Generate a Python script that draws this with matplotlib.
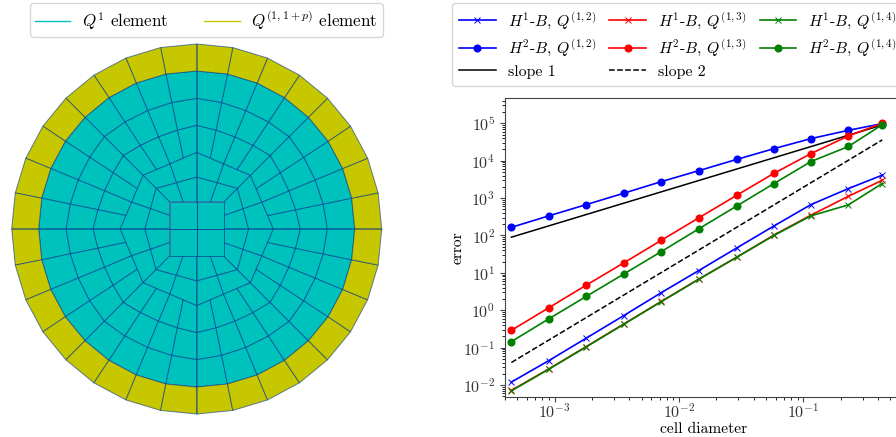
import numpy as np
import matplotlib
matplotlib.use('Agg')
import matplotlib.pyplot as plt
from matplotlib.collections import PolyCollection
from matplotlib.lines import Line2D
from matplotlib.ticker import LogLocator, NullFormatter

plt.rcParams['font.family'] = ['cmr10', 'DejaVu Sans']
plt.rcParams['mathtext.fontset'] = 'cm'
plt.rcParams['axes.formatter.use_mathtext'] = True
plt.rcParams['axes.unicode_minus'] = False

# convergence data
diam = [4.5e-4, 9.0e-4, 1.8e-3, 3.6e-3, 7.2e-3, 1.44e-2, 2.9e-2, 5.8e-2, 1.15e-1, 2.3e-1, 4.3e-1]
h1_q12 = [0.012, 0.045, 0.18, 0.72, 2.95, 11.5, 46, 180, 670, 1800, 4100]
h1_q13 = [0.0072, 0.027, 0.107, 0.43, 1.72, 6.8, 26, 103, 350, 1120, 3000]
h1_q14 = [0.0070, 0.0265, 0.105, 0.42, 1.7, 6.7, 26, 100, 335, 660, 2450]
h2_q12 = [165, 335, 670, 1350, 2750, 5400, 10800, 21000, 39000, 65000, 98000]
h2_q13 = [0.29, 1.17, 4.7, 18.5, 74, 295, 1180, 4600, 15500, 46000, 100000]
h2_q14 = [0.145, 0.59, 2.35, 9.3, 37, 150, 610, 2450, 9500, 24000, 92000]
slope_x = [4.5e-4, 4.3e-1]
slope1 = [90, 90000]
slope2 = [0.04, 36000]
x_ticks = [1e-3, 1e-2, 1e-1]
y_ticks = [1e-2, 1e-1, 1e0, 1e1, 1e2, 1e3, 1e4, 1e5]

# mesh rings: radius on the axes, radius on the diagonals, how round the ring is
ring_axis = [27.2, 52, 76.7, 103.7, 130.7, 158, 185]
ring_diag = [38.4, 57.6, 76, 104, 130.7, 158, 185]
ring_round = [0, 0, 0, 0.5, 0.76, 1, 1]
ring_spokes = [16, 16, 32, 32, 32, 32, 32]
Q1_COLOR = (0, 0.76, 0.74)
QP_COLOR = (0.78, 0.78, 0)
EDGE = (0, 0.2, 0.55, 0.6)
AXIS_EDGE = (0, 0.2, 0.55, 0.35)


def ring_point(i, k, n):
    # k-th of n points round ring i, straight chords blended with a circle
    ang = 2 * np.pi * k / n
    step = (k * 32 // n) % 8
    turn = (k * 32 // n) // 8
    s = step / 4.0 if step <= 4 else (8 - step) / 4.0
    a = np.array([ring_axis[i], 0.0])
    d = ring_diag[i] * np.array([np.cos(np.pi / 4), np.sin(np.pi / 4)])
    p = a * (1 - s) + d * s
    if step > 4:
        p = p[::-1]
    c, sn = np.cos(turn * np.pi / 2), np.sin(turn * np.pi / 2)
    p = np.array([c * p[0] - sn * p[1], sn * p[0] + c * p[1]])
    circ = ring_axis[i] * np.array([np.cos(ang), np.sin(ang)])
    return (1 - ring_round[i]) * p + ring_round[i] * circ


def ring_cells(i):
    n = ring_spokes[i]
    m = ring_spokes[i + 1]
    cells = []
    for k in range(n):
        inner = [ring_point(i, k, n), ring_point(i, k + 1, n)]
        if m == n:
            outer = [ring_point(i + 1, k + 1, m), ring_point(i + 1, k, m)]
        else:
            outer = [ring_point(i + 1, 2 * k + 2, m), ring_point(i + 1, 2 * k + 1, m), ring_point(i + 1, 2 * k, m)]
        cells.append(inner + outer)
    return cells


fig = plt.figure(figsize=(8.96, 4.37), dpi=100)

# left panel, one data unit is one pixel
ax1 = fig.add_axes([0, 0, 400 / 896, 1])
ax1.set_xlim(-196.7, 203.3)
ax1.set_ylim(-208, 229)
ax1.axis('off')

teal_cells = []
for i in range(5):
    teal_cells += ring_cells(i)
yellow_cells = ring_cells(5)

h = ring_axis[0]
for sx, sy in [(-1, -1), (1, -1), (1, 1), (-1, 1)]:
    teal_cells.append([(0, 0), (sx * h, 0), (sx * h, sy * h), (0, sy * h)])

ax1.add_collection(PolyCollection(teal_cells, facecolors=[Q1_COLOR], edgecolors=[EDGE], linewidths=0.7))
ax1.add_collection(PolyCollection(yellow_cells, facecolors=[QP_COLOR], edgecolors=[EDGE], linewidths=0.7))
R = ring_axis[-1]
ax1.plot([-R, R], [0, 0], color=AXIS_EDGE, lw=0.7)
ax1.plot([0, 0], [-R, R], color=AXIS_EDGE, lw=0.7)

handles = [Line2D([], [], color=Q1_COLOR, lw=1), Line2D([], [], color=QP_COLOR, lw=1)]
fig.legend(handles, [r'$Q^1$ element', r'$Q^{(1,1+p)}$ element'], ncol=2, fontsize=12.2,
           loc='upper left', bbox_to_anchor=(29.5 / 896, 1 - 3.3 / 437), borderaxespad=0,
           handlelength=2.1, handletextpad=0.7, columnspacing=2.1, borderpad=0.3)

# right panel
ax2 = fig.add_axes([505 / 896, 40 / 437, 398 / 896, 299.5 / 437])
ax2.loglog(diam, h1_q12, color='b', marker='x', ms=5, lw=1.2, mew=0.7, label=r'$H^1$-$B$, $Q^{(1,2)}$')
ax2.loglog(diam, h2_q12, color='b', marker='o', ms=4.8, lw=1.2, label=r'$H^2$-$B$, $Q^{(1,2)}$')
ax2.loglog(slope_x, slope1, color='k', lw=1.1, label='slope 1')
ax2.loglog(diam, h1_q13, color='r', marker='x', ms=5, lw=1.2, mew=0.7, label=r'$H^1$-$B$, $Q^{(1,3)}$')
ax2.loglog(diam, h2_q13, color='r', marker='o', ms=4.8, lw=1.2, label=r'$H^2$-$B$, $Q^{(1,3)}$')
ax2.loglog(slope_x, slope2, color='k', ls='--', lw=1.1, label='slope 2')
ax2.loglog(diam, h1_q14, color='g', marker='x', ms=5, lw=1.2, mew=0.7, label=r'$H^1$-$B$, $Q^{(1,4)}$')
ax2.loglog(diam, h2_q14, color='g', marker='o', ms=4.8, lw=1.2, label=r'$H^2$-$B$, $Q^{(1,4)}$')

ax2.set_xticks(x_ticks)
ax2.set_yticks(y_ticks)
ax2.set_xlim(10 ** -3.398, 10 ** -0.2)
ax2.set_ylim(10 ** -2.32, 10 ** 5.69)
ax2.set_xlabel('cell diameter', fontsize=11.2, labelpad=1)
ax2.set_ylabel('error', fontsize=11.2, labelpad=-1)
ax2.yaxis.set_minor_locator(LogLocator(base=10, subs=np.arange(2, 10) * 0.1, numticks=12))
ax2.yaxis.set_minor_formatter(NullFormatter())
ax2.tick_params(labelsize=11.5, color='#444444', labelcolor='#333333')
ax2.tick_params(axis='x', which='major', pad=0.5)
for sp in ax2.spines.values():
    sp.set_color('#444444')

fig.legend(*ax2.get_legend_handles_labels(), ncol=3, fontsize=11.4, loc='upper left',
           bbox_to_anchor=(452 / 896, 1 - 3.3 / 437), borderaxespad=0,
           handlelength=2.3, handletextpad=0.76, columnspacing=0.85, labelspacing=0.42, borderpad=0.45)

fig.savefig('out.png', dpi=100)
